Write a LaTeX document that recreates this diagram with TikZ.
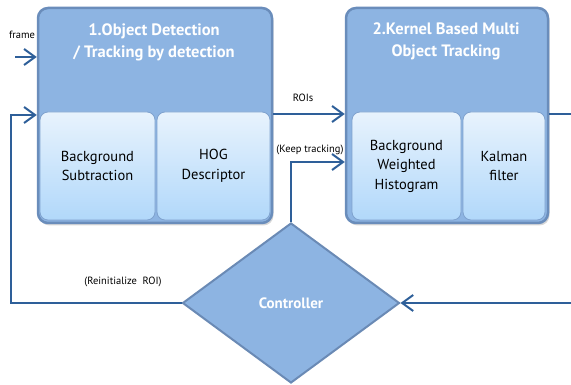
\documentclass[tikz,border=0pt]{standalone}
\usepackage{fontspec}
\setmainfont{PT Sans}
\usetikzlibrary{shapes.geometric,arrows.meta,shadows}
\definecolor{boxfill}{HTML}{8DB4E2}
\definecolor{boxline}{HTML}{6A8DBB}
\definecolor{innertop}{HTML}{E8F3FD}
\definecolor{innerbot}{HTML}{B1D8FA}
\definecolor{innerline}{HTML}{7FA2CE}
\definecolor{connc}{HTML}{2E5F99}
\definecolor{dline}{HTML}{6A8AB5}
\tikzset{
  outerbox/.style={draw=boxline, line width=2.5pt, fill=boxfill, rounded corners=10pt,
    drop shadow={shadow xshift=1.5pt, shadow yshift=-2.5pt, opacity=0.3}},
  innerbox/.style={draw=innerline, line width=0.8pt, top color=innertop, bottom color=innerbot,
    rounded corners=8pt, align=center, text=black, font=\fontsize{14.5}{19.5}\selectfont},
  titletxt/.style={text=white, align=center, font=\bfseries\fontsize{16.5}{22}\selectfont},
  lbl/.style={text=black, font=\fontsize{10.5}{12}\selectfont, inner sep=0pt},
  conn/.style={draw=connc, line width=2pt},
  arr/.style={conn, -{Straight Barb[length=11pt, width=16pt, line width=2pt]}},
  ctrlnode/.style={diamond, draw=dline, line width=2pt, fill=boxfill, minimum width=217pt,
    minimum height=160pt, inner sep=0pt, text=white, font=\bfseries\fontsize{15}{18}\selectfont}
}
\begin{document}
\begin{tikzpicture}[x=1pt, y=-1pt]
\useasboundingbox (0,0) rectangle (571,385);
\clip (0,0) rectangle (571,385);
\fill[white] (0,0) rectangle (571,385);
% outer boxes
\node[outerbox, minimum width=234pt, minimum height=215pt] (b1) at (155,115.5) {};
\node[outerbox, minimum width=202pt, minimum height=215pt] (b2) at (447,115.5) {};
% titles
\node[titletxt] (t1) at (154,42) {1.Object Detection\\/ Tracking by detection};
\node[titletxt] (t2) at (446,41.5) {2.Kernel Based Multi\\Object Tracking};
% inner boxes
\node[innerbox, minimum width=115pt, minimum height=108pt] (bs) at (97.5,166) {Background\\Subtraction};
\node[innerbox, minimum width=113pt, minimum height=108pt] (hog) at (213.5,166) {HOG\\Descriptor};
\node[innerbox, minimum width=109pt, minimum height=108pt] (bwh) at (406.5,166) {Background\\Weighted\\Histogram};
\node[innerbox, minimum width=82pt, minimum height=108pt] (kal) at (504,166) {Kalman\\filter};
% controller
\node[ctrlnode] (ctrl) at (291,303) {Controller};
% helper coordinates
\coordinate (fs) at (15,57);
\coordinate (fu) at (11,115);
\coordinate (roiy) at (0,114);
\coordinate (kty) at (0,162);
\coordinate (rc) at (590,303);
% connectors
\draw[arr] (fs) -- (b1.west |- fs);
\draw[arr] (ctrl.west) -| (fu) -- (b1.west |- fu);
\draw[arr] (b1.east |- roiy) -- (b2.west |- roiy);
\draw[arr] (ctrl.north) |- (b2.west |- kty);
\draw[arr] (b2.east |- roiy) -| (rc) -- (ctrl.east);
% labels
\node[lbl] (lframe) at (22,35) {frame};
\node[lbl] (lroi) at (303,98) {ROIs};
\node[lbl] (lkeep) at (310,150) {(Keep tracking)};
\node[lbl] (lreinit) at (123,282) {(Reinitialize~~ROI)};
\end{tikzpicture}
\end{document}
